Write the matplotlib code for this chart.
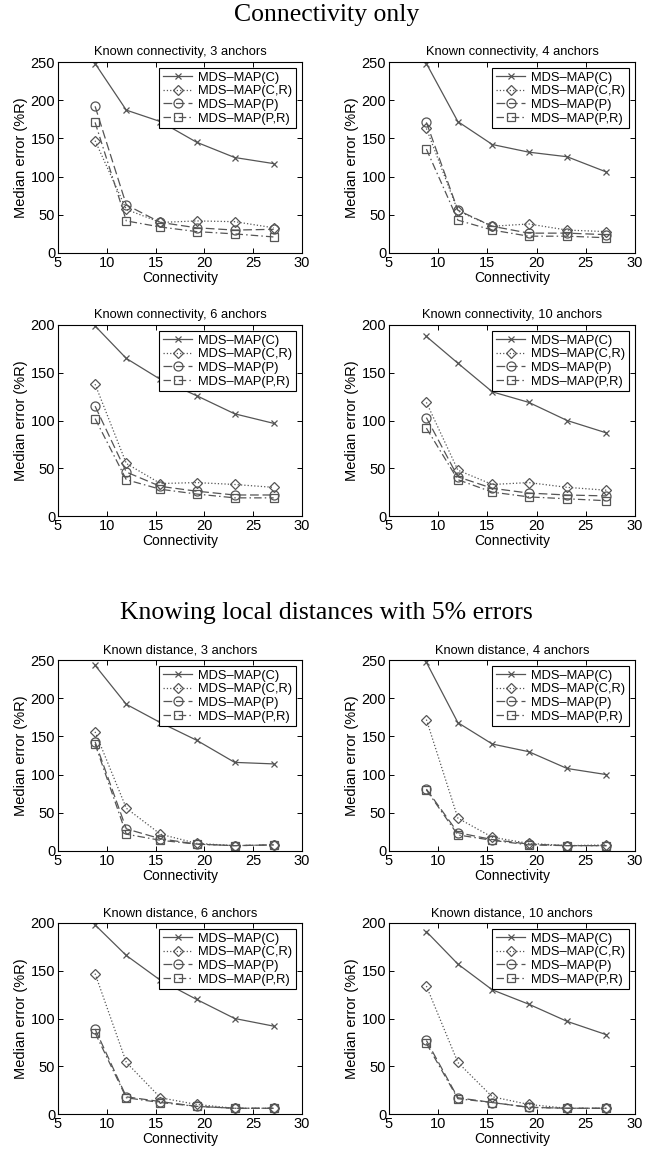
import matplotlib
matplotlib.use("Agg")
import matplotlib.pyplot as plt

plt.rcParams['font.family'] = ['Liberation Sans', 'DejaVu Sans']

connectivity = [8.8, 12.0, 15.5, 19.2, 23.1, 27.1]
series_names = ["MDS\u2013MAP(C)", "MDS\u2013MAP(C,R)", "MDS\u2013MAP(P)", "MDS\u2013MAP(P,R)"]

titles = [
    "Known connectivity, 3 anchors", "Known connectivity, 4 anchors",
    "Known connectivity, 6 anchors", "Known connectivity, 10 anchors",
    "Known distance, 3 anchors", "Known distance, 4 anchors",
    "Known distance, 6 anchors", "Known distance, 10 anchors",
]
ymax = [250, 250, 200, 200, 250, 250, 200, 200]

conn3_C  = [248, 187, 172, 145, 125, 117]
conn3_CR = [147, 57, 40, 42, 41, 33]
conn3_P  = [192, 63, 40, 33, 30, 31]
conn3_PR = [171, 42, 34, 28, 25, 21]

conn4_C  = [248, 172, 142, 132, 126, 106]
conn4_CR = [163, 55, 35, 38, 30, 28]
conn4_P  = [171, 56, 35, 26, 26, 24]
conn4_PR = [136, 43, 30, 22, 22, 20]

conn6_C  = [199, 165, 143, 126, 107, 97]
conn6_CR = [138, 55, 34, 35, 33, 30]
conn6_P  = [115, 46, 31, 26, 22, 22]
conn6_PR = [102, 38, 28, 23, 19, 19]

conn10_C  = [188, 160, 130, 119, 100, 87]
conn10_CR = [119, 48, 33, 35, 30, 27]
conn10_P  = [103, 41, 29, 24, 22, 21]
conn10_PR = [92, 38, 25, 20, 18, 16]

dist3_C  = [243, 192, 168, 145, 116, 114]
dist3_CR = [156, 56, 22, 10, 7, 8]
dist3_P  = [143, 29, 16, 9, 7, 8]
dist3_PR = [140, 22, 14, 9, 7, 8]

dist4_C  = [247, 168, 140, 130, 108, 100]
dist4_CR = [172, 43, 18, 10, 7, 8]
dist4_P  = [81, 24, 15, 9, 7, 7]
dist4_PR = [80, 21, 14, 8, 7, 7]

dist6_C  = [198, 166, 140, 120, 100, 92]
dist6_CR = [147, 54, 17, 10, 6, 6]
dist6_P  = [89, 18, 13, 8, 6, 6]
dist6_PR = [85, 17, 12, 8, 6, 6]

dist10_C  = [191, 157, 130, 115, 97, 83]
dist10_CR = [134, 54, 18, 10, 6, 6]
dist10_P  = [77, 17, 12, 7, 6, 6]
dist10_PR = [74, 16, 12, 7, 6, 6]

panels = [
    [conn3_C, conn3_CR, conn3_P, conn3_PR],
    [conn4_C, conn4_CR, conn4_P, conn4_PR],
    [conn6_C, conn6_CR, conn6_P, conn6_PR],
    [conn10_C, conn10_CR, conn10_P, conn10_PR],
    [dist3_C, dist3_CR, dist3_P, dist3_PR],
    [dist4_C, dist4_CR, dist4_P, dist4_PR],
    [dist6_C, dist6_CR, dist6_P, dist6_PR],
    [dist10_C, dist10_CR, dist10_P, dist10_PR],
]

styles = [
    dict(linestyle='-', marker='x', markersize=5),
    dict(linestyle=':', marker='D', markersize=5.5),
    dict(linestyle=(0, (7, 3)), marker='o', markersize=6.5),
    dict(linestyle=(0, (6, 2.5, 1.2, 2.5)), marker='s', markersize=5.5),
]
gray = '#555555'

W, H = 653, 1149
fig = plt.figure(figsize=(W / 100, H / 100), dpi=100)

col_left = [58, 389]
col_width = [244, 246]
row_top = [62, 325, 660, 923]
row_height = 191

for i, (title, data) in enumerate(zip(titles, panels)):
    r, c = divmod(i, 2)
    left = col_left[c] / W
    bottom = (H - row_top[r] - row_height) / H
    ax = fig.add_axes([left, bottom, col_width[c] / W, row_height / H])
    for vals, name, st in zip(data, series_names, styles):
        ax.plot(connectivity, vals, color=gray, linewidth=0.9,
                markerfacecolor='none', markeredgecolor=gray,
                markeredgewidth=0.9, label=name, **st)
    ax.set_xlim(5, 30)
    ax.set_ylim(0, ymax[i])
    ax.set_xticks([5, 10, 15, 20, 25, 30])
    ax.set_yticks(list(range(0, ymax[i] + 1, 50)))
    ax.tick_params(direction='in', top=True, right=True, length=3.5,
                   width=0.7, labelsize=10.5, pad=2)
    for sp in ax.spines.values():
        sp.set_linewidth(0.8)
        sp.set_color('black')
    ax.set_title(title, fontsize=9.3, pad=5)
    ax.set_xlabel("Connectivity", fontsize=10, labelpad=1)
    ax.set_ylabel("Median error (%R)", fontsize=10.5, labelpad=2)
    leg = ax.legend(loc='upper right', fontsize=9.3, frameon=True, fancybox=False,
                    framealpha=1, edgecolor='black', borderpad=0.3,
                    labelspacing=0.12, handlelength=2.2, handletextpad=0.5,
                    borderaxespad=0.45)
    leg.get_frame().set_linewidth(0.8)

fig.text(0.5, 1 - 15 / H, "Connectivity only", ha='center', va='center',
         fontsize=18.5, family='Liberation Serif')
fig.text(0.5, 1 - 613 / H, "Knowing local distances with 5% errors",
         ha='center', va='center', fontsize=18.5, family='Liberation Serif')

fig.savefig("out.png", dpi=100)
